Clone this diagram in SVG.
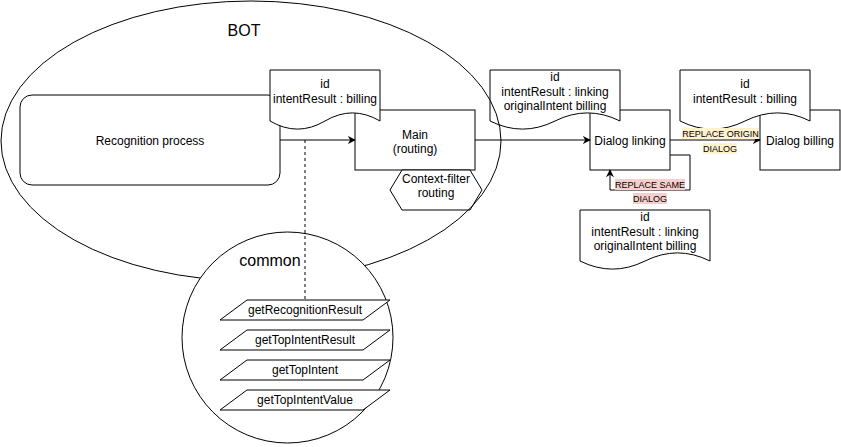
<svg xmlns="http://www.w3.org/2000/svg" width="841" height="447" viewBox="0 0 841 447">
<style>
text{font-family:"Liberation Sans",Arial,sans-serif;fill:#000;text-anchor:middle}
.t12{font-size:12px}
.t16{font-size:16px}
.lbl{font-size:9px}
.shape{fill:#fff;stroke:#000;stroke-width:1}
.line{fill:none;stroke:#000;stroke-width:1}
</style>
<defs>
<marker id="arr" viewBox="0 0 10 10" refX="9" refY="5" markerWidth="8" markerHeight="8" markerUnits="userSpaceOnUse" orient="auto">
<path d="M0,0 L10,5 L0,10 L3,5 Z" fill="#000"/>
</marker>
</defs>
<rect width="841" height="447" fill="#fff"/>

<g id="recognition">
<rect class="shape" x="20" y="95" width="260" height="90" rx="12"/>
<text class="t12" x="150" y="145">Recognition process</text>
</g>

<g id="main">
<rect class="shape" x="355" y="110" width="120" height="60"/>
<text class="t12" x="415" y="138.5">Main</text>
<text class="t12" x="415" y="153">(routing)</text>
</g>

<g id="context-filter">
<polygon class="shape" points="402,170 470,170 482,190 470,210 402,210 390,190"/>
<text class="t12" x="436" y="183">Context-filter</text>
<text class="t12" x="436" y="197">routing</text>
</g>

<g id="dialog-linking">
<rect class="shape" x="590" y="110" width="80" height="60"/>
<text class="t12" x="630" y="145">Dialog linking</text>
</g>

<g id="dialog-billing">
<rect class="shape" x="760" y="110" width="80" height="60"/>
<text class="t12" x="800" y="145">Dialog billing</text>
</g>

<g id="doc1">
<path class="shape" d="M270,70 H380 V121 Q352.5,104.8 325,121 Q297.5,137.2 270,121 Z"/>
<text class="t12" x="325" y="88">id</text>
<text class="t12" x="325" y="102.5">intentResult : billing</text>
</g>

<g id="doc2">
<path class="shape" d="M490,70 H620 V121 Q587.5,104.8 555,121 Q522.5,137.2 490,121 Z"/>
<text class="t12" x="555" y="81">id</text>
<text class="t12" x="555" y="95.5">intentResult : linking</text>
<text class="t12" x="555" y="110">originalIntent billing</text>
</g>

<g id="doc3">
<path class="shape" d="M680,70 H810 V121 Q777.5,104.8 745,121 Q712.5,137.2 680,121 Z"/>
<text class="t12" x="745" y="88">id</text>
<text class="t12" x="745" y="102.5">intentResult : billing</text>
</g>

<g id="doc4">
<path class="shape" d="M580,210 H710 V261 Q677.5,244.8 645,261 Q612.5,277.2 580,261 Z"/>
<text class="t12" x="645" y="221">id</text>
<text class="t12" x="645" y="235.5">intentResult : linking</text>
<text class="t12" x="645" y="250">originalIntent billing</text>
</g>

<g id="bot">
<ellipse class="line" cx="251" cy="141" rx="250" ry="140"/>
<text class="t16" x="244" y="36">BOT</text>
</g>

<g id="common">
<ellipse class="shape" cx="287.5" cy="337.5" rx="105.5" ry="105.5"/>
<text class="t16" x="270" y="266">common</text>
</g>

<g id="connectors">
<path class="line" d="M280,140 H355" marker-end="url(#arr)"/>
<path class="line" d="M475,140 H590" marker-end="url(#arr)"/>
<path class="line" d="M670,140 H760" marker-end="url(#arr)"/>
<path class="line" d="M670,155 H690 V190 H610 V170" marker-end="url(#arr)"/>
<path class="line" d="M305,140 V300" stroke-dasharray="3,3"/>
<rect x="682" y="128" width="77" height="11" fill="#fff2cc"/>
<rect x="703" y="143" width="34" height="11" fill="#fff2cc"/>
<text class="lbl" x="720.5" y="137">REPLACE ORIGIN</text>
<text class="lbl" x="720" y="152">DIALOG</text>
<rect x="615" y="179" width="70" height="11" fill="#f8cecc"/>
<rect x="633" y="193" width="34" height="11" fill="#f8cecc"/>
<text class="lbl" x="650" y="187.5">REPLACE SAME</text>
<text class="lbl" x="650" y="202">DIALOG</text>
</g>

<g id="getRecognitionResult">
<polygon class="shape" points="247,300 390,300 363,320 220,320"/>
<text class="t12" x="305" y="314">getRecognitionResult</text>
</g>
<g id="getTopIntentResult">
<polygon class="shape" points="247,330 390,330 363,350 220,350"/>
<text class="t12" x="305" y="344">getTopIntentResult</text>
</g>
<g id="getTopIntent">
<polygon class="shape" points="247,360 390,360 363,380 220,380"/>
<text class="t12" x="305" y="374">getTopIntent</text>
</g>
<g id="getTopIntentValue">
<polygon class="shape" points="247,390 390,390 363,410 220,410"/>
<text class="t12" x="305" y="404">getTopIntentValue</text>
</g>
</svg>
